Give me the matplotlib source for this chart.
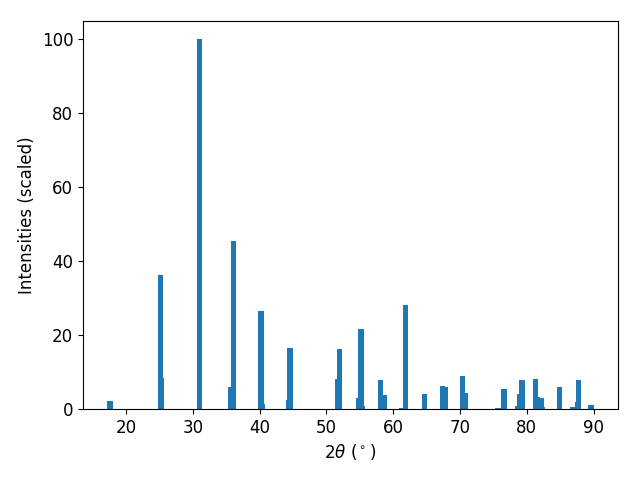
import matplotlib
matplotlib.use("Agg")
import matplotlib.pyplot as plt

two_theta = [17.6, 25.16, 25.35, 31.02, 35.66, 36.05, 40.19, 40.38, 44.33, 44.53,
             51.66, 51.93, 54.8, 55.15, 55.34, 58.09, 58.63, 61.2, 61.8, 64.65,
             67.37, 67.76, 70.36, 70.75, 75.7, 76.6, 78.58, 78.88, 79.27,
             81.32, 81.5, 82.1, 82.26, 84.9, 86.8, 87.56, 87.75, 89.6]
intensity = [2.2, 36.3, 8.5, 100.0, 6.0, 45.5, 26.6, 1.4, 2.4, 16.5,
             8.1, 16.3, 3.0, 21.7, 0.8, 7.9, 3.8, 0.4, 28.2, 4.1,
             6.2, 6.0, 8.9, 4.3, 0.3, 5.4, 0.8, 4.1, 7.9,
             8.1, 3.3, 3.0, 0.6, 6.0, 0.5, 1.9, 7.9, 1.1]

plt.rcParams['font.size'] = 12
fig, ax = plt.subplots(figsize=(6.4, 4.8), dpi=100)
ax.bar(two_theta, intensity, width=0.8, color='#1f77b4')
ax.set_xlabel(r'$2\theta$ ($^\circ$)')
ax.set_ylabel('Intensities (scaled)')
fig.subplots_adjust(left=83/640, right=618/640, top=1-21/480, bottom=1-409/480)
fig.savefig('out.png', dpi=100)
